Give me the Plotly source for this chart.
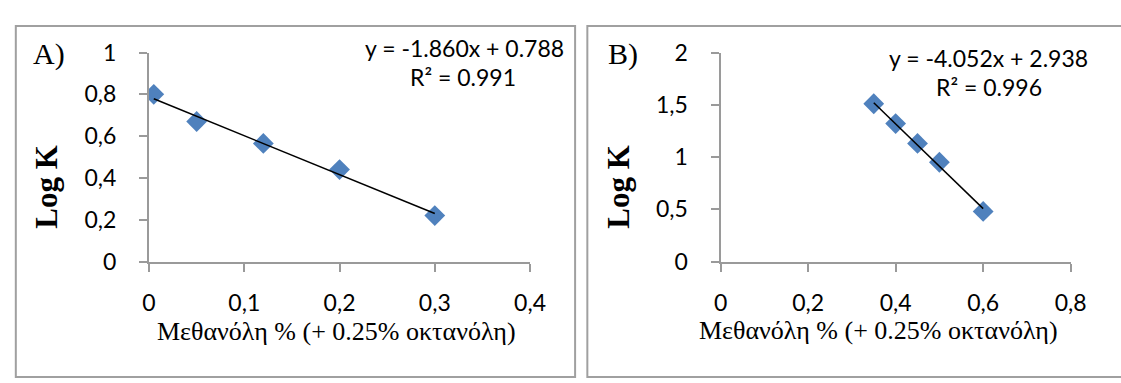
import plotly.graph_objects as go

# Panel A: methanol fraction vs log K
meth_a = [0.005, 0.05, 0.12, 0.2, 0.3]
logk_a = [0.80, 0.67, 0.565, 0.44, 0.22]
slope_a, icpt_a, r2_a = -1.860, 0.788, 0.991

# Panel B
meth_b = [0.35, 0.4, 0.45, 0.5, 0.6]
logk_b = [1.51, 1.32, 1.13, 0.95, 0.48]
slope_b, icpt_b, r2_b = -4.052, 2.938, 0.996

x_title = "Μεθανόλη % (+ 0.25% οκτανόλη)"
panel_tags = ["A)", "B)"]

W, H = 1121, 383
def px(x):
    return x / W
def py(y):
    return 1 - y / H

BLUE = "#4f81bd"
GRID = "#9a9a9a"
SANS = "Lato"
SERIF = "Times New Roman, Liberation Serif, serif"
TICKFONT = dict(family=SANS, size=23, color="#000000")

fig = go.Figure()

def add_panel(xs, ys, slope, icpt, xa, ya):
    fig.add_trace(go.Scatter(
        x=xs, y=ys, mode="markers", xaxis=xa, yaxis=ya,
        marker=dict(symbol="diamond", size=16, color=BLUE),
        showlegend=False, hoverinfo="skip"))
    x0, x1 = min(xs), max(xs)
    fig.add_trace(go.Scatter(
        x=[x0, x1], y=[slope * x0 + icpt, slope * x1 + icpt],
        mode="lines", xaxis=xa, yaxis=ya,
        line=dict(color="black", width=1.5),
        showlegend=False, hoverinfo="skip"))

add_panel(meth_a, logk_a, slope_a, icpt_a, "x", "y")
add_panel(meth_b, logk_b, slope_b, icpt_b, "x2", "y2")

ydom = [py(266), py(40.5)]
axis_common = dict(
    showgrid=False, zeroline=False, showline=True, linecolor=GRID, linewidth=2,
    ticks="outside", ticklen=8, tickwidth=2, tickcolor=GRID,
    tickfont=TICKFONT, fixedrange=True,
)

fig.update_layout(
    width=W, height=H,
    margin=dict(l=0, r=0, t=0, b=0),
    paper_bgcolor="white", plot_bgcolor="white",
    separators=",.",
    xaxis=dict(domain=[px(145), px(534)], range=[0, 0.4], dtick=0.1, tick0=0,
               anchor="y", ticklabelstandoff=12, **axis_common),
    yaxis=dict(domain=ydom, range=[0, 1], dtick=0.2, tick0=0,
               anchor="x", ticklabelstandoff=18, **axis_common),
    xaxis2=dict(domain=[px(728.5), px(1086)], range=[0, 0.8], dtick=0.2, tick0=0,
                anchor="y2", ticklabelstandoff=12, **axis_common),
    yaxis2=dict(domain=ydom, range=[0, 2], dtick=0.5, tick0=0,
                anchor="x2", ticklabelstandoff=18, **axis_common),
)

# Panel frames
frame = dict(type="rect", xref="paper", yref="paper",
             line=dict(color="#a0a0a0", width=2), fillcolor="rgba(0,0,0,0)", layer="below")
fig.add_shape(x0=px(9), x1=px(580), y0=-0.02, y1=py(12), **frame)
fig.add_shape(x0=px(592.5), x1=1.02, y0=-0.02, y1=py(12), **frame)

eq_font = dict(family=SANS, size=23, color="#000000")

def eq_text(slope, icpt):
    return f"y = {slope:.3f}x + {icpt:.3f}"

annots = [
    # panel A
    dict(x=px(571), y=py(36), text=eq_text(slope_a, icpt_a), xanchor="right", font=eq_font),
    dict(x=px(466), y=py(67), text=f"R² = {r2_a:.3f}", xanchor="center", font=eq_font),
    dict(x=px(43), y=py(42), text=panel_tags[0], xanchor="center",
         font=dict(family=SERIF, size=30, color="#000000")),
    dict(x=px(40), y=py(185), text="<b>Log K</b>", textangle=-90, xanchor="center",
         font=dict(family=SERIF, size=31, color="#000000")),
    dict(x=px(336), y=py(342), text=x_title, xanchor="center",
         font=dict(family=SERIF, size=26, color="#000000")),
    # panel B
    dict(x=px(1106), y=py(46), text=eq_text(slope_b, icpt_b), xanchor="right", font=eq_font),
    dict(x=px(1003), y=py(78), text=f"R² = {r2_b:.3f}", xanchor="center", font=eq_font),
    dict(x=px(629), y=py(42), text=panel_tags[1], xanchor="center",
         font=dict(family=SERIF, size=30, color="#000000")),
    dict(x=px(624), y=py(185), text="<b>Log K</b>", textangle=-90, xanchor="center",
         font=dict(family=SERIF, size=31, color="#000000")),
    dict(x=px(890), y=py(340), text=x_title, xanchor="center",
         font=dict(family=SERIF, size=26, color="#000000")),
]
for a in annots:
    fig.add_annotation(xref="paper", yref="paper", yanchor="middle", showarrow=False, **a)

fig.write_html("out.html")
